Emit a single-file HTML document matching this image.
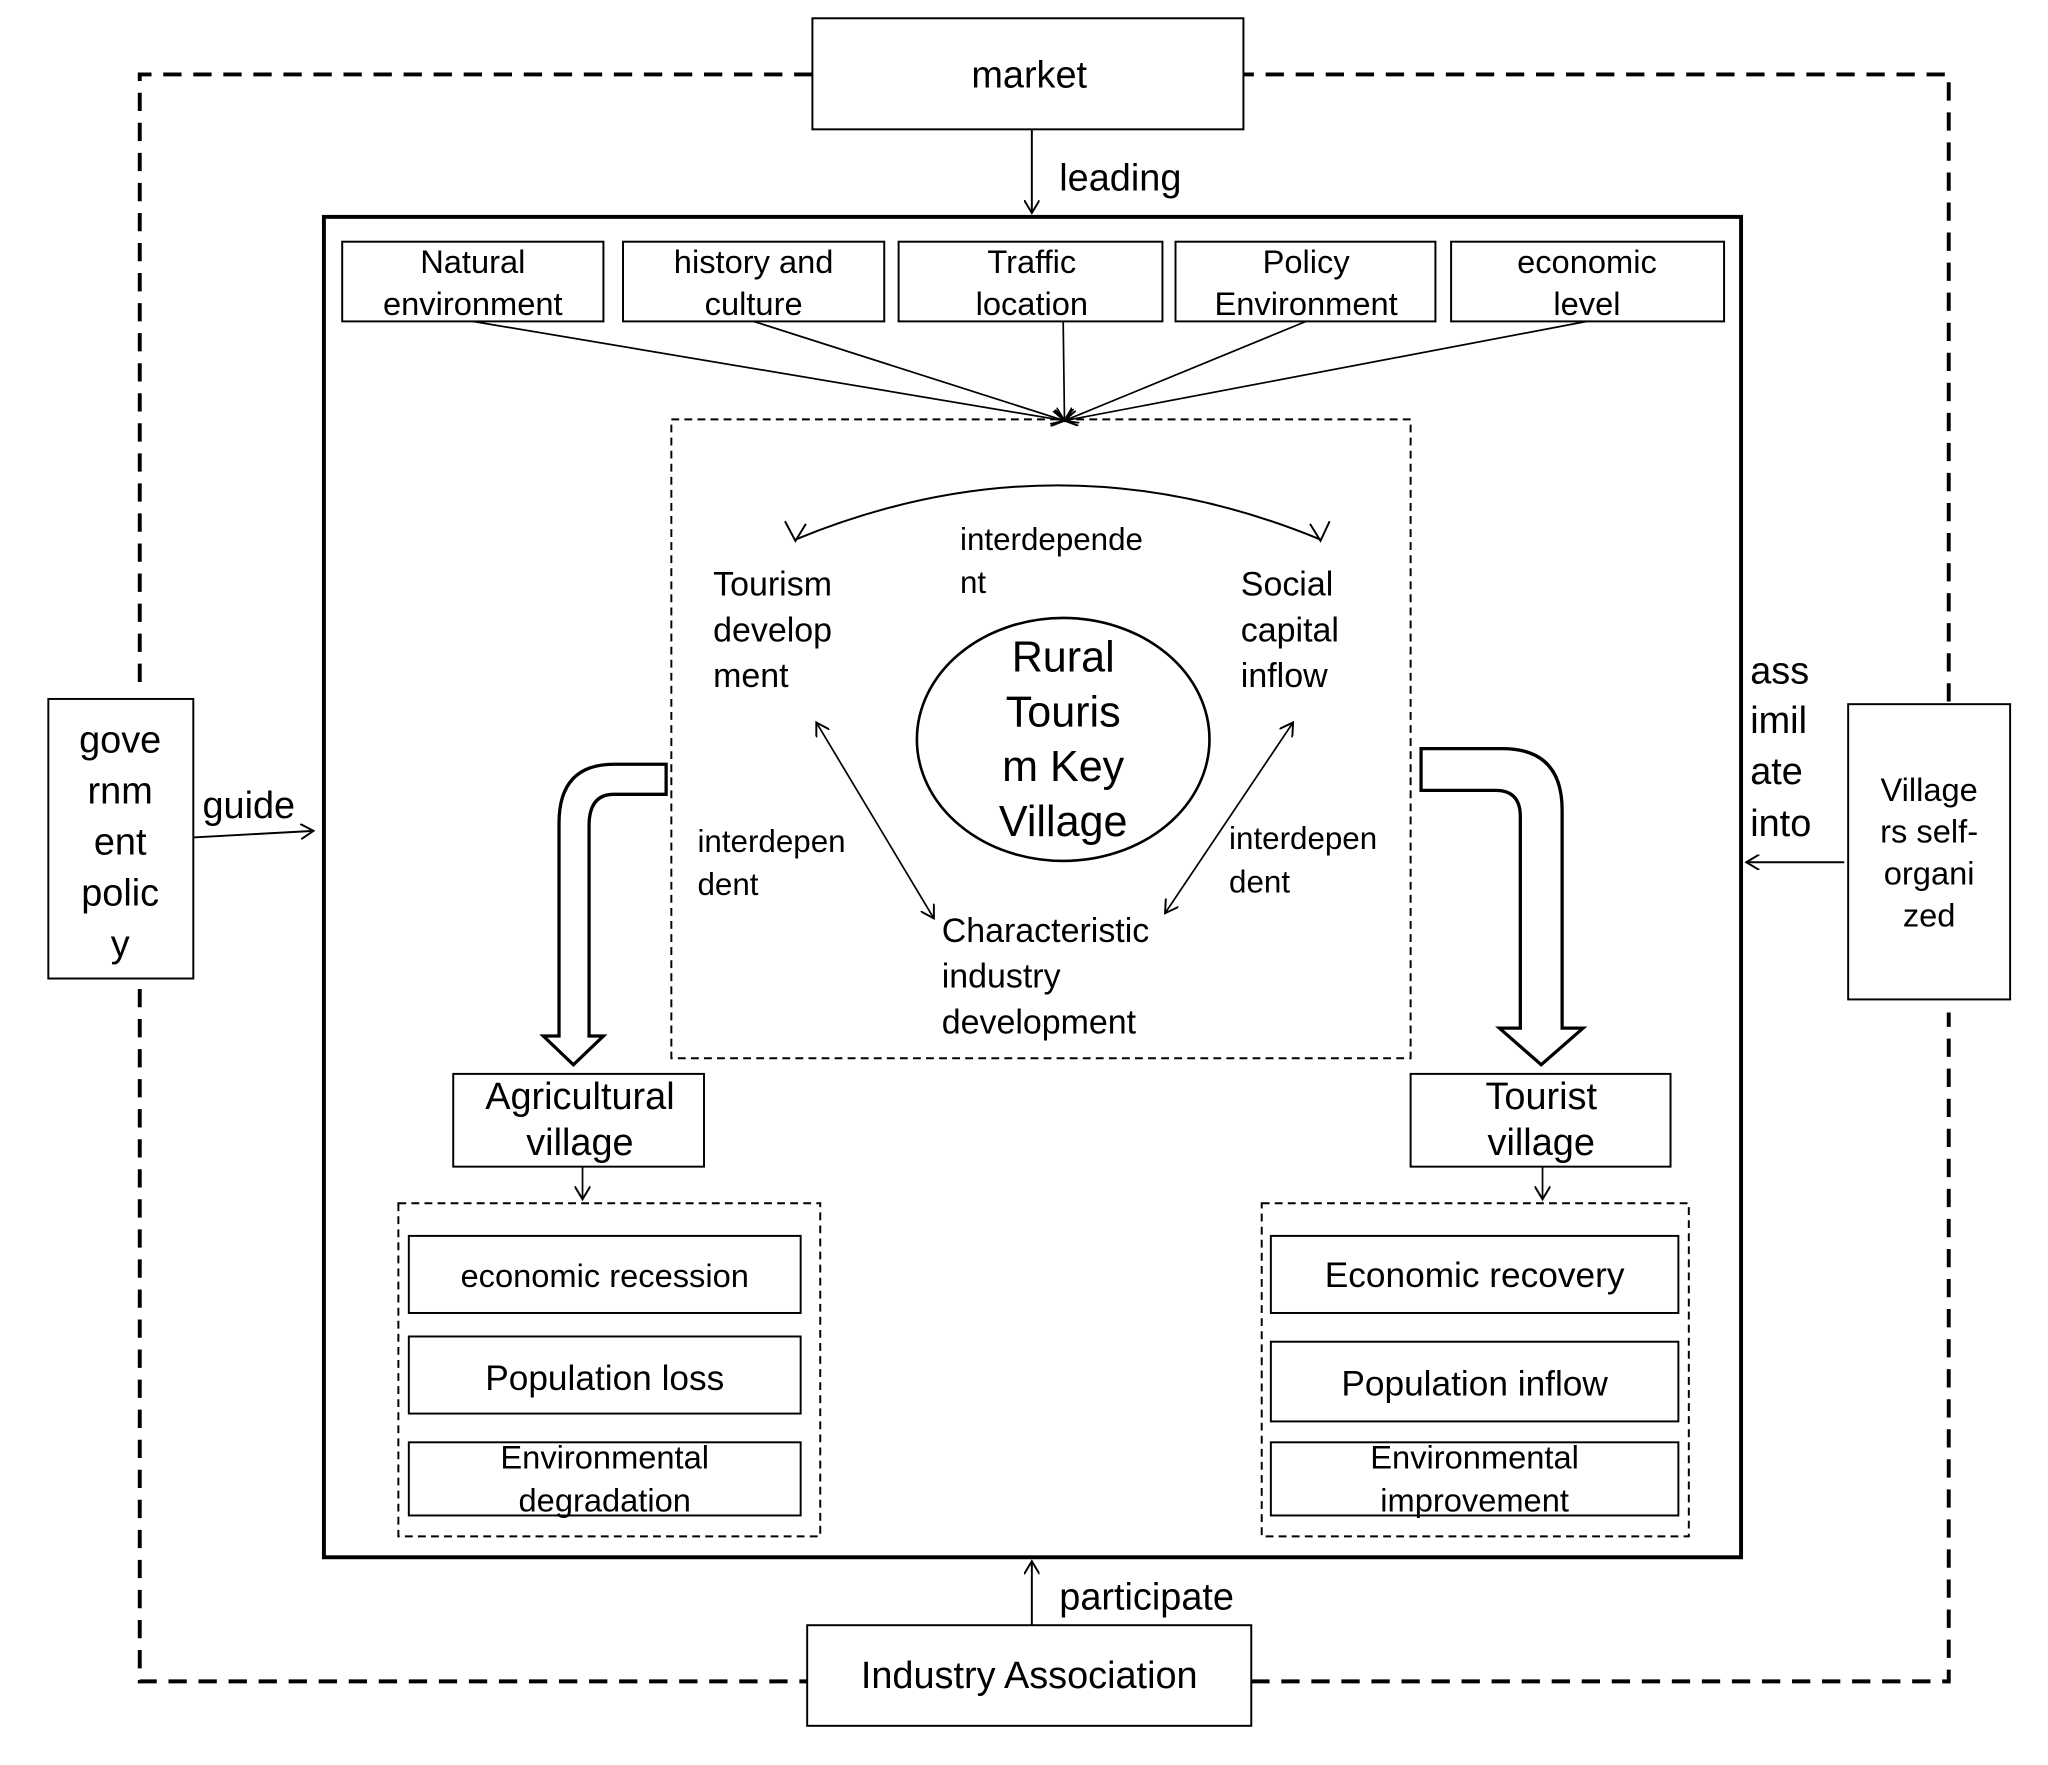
<!DOCTYPE html>
<html><head><meta charset="utf-8"><style>html,body{margin:0;padding:0;background:#fff}svg{display:block}text{font-family:"Liberation Sans",Arial,sans-serif;fill:#000}</style></head><body>
<svg width="2048" height="1765" viewBox="0 0 1568 1351" preserveAspectRatio="none" xmlns="http://www.w3.org/2000/svg">
<defs><marker id="a" markerWidth="12" markerHeight="12" refX="10" refY="6" orient="auto-start-reverse" markerUnits="userSpaceOnUse"><path d="M0,0 L10,6 L0,12" fill="none" stroke="#000" stroke-width="1.5"/></marker></defs>
<g fill="none" stroke="#000">
<path d="M622,57 H107 V530 M107,757 V1287 H618 M958,1287 H1492 V775 M1492,537 V57 H952" stroke-width="3" stroke-dasharray="14,9"/>
<rect x="622" y="14" width="330" height="85" fill="#fff" stroke-width="1.5"/>
<rect x="248" y="166" width="1085" height="1026" stroke-width="3"/>
<rect x="618" y="1244" width="340" height="77" fill="#fff" stroke-width="1.5"/>
<rect x="37" y="535" width="111" height="214" stroke-width="1.5"/>
<rect x="1415" y="539" width="124" height="226" stroke-width="1.5"/>
<line x1="790" y1="99" x2="790" y2="163" stroke-width="1.5" marker-end="url(#a)"/>
<line x1="790" y1="1244" x2="790" y2="1195" stroke-width="1.5" marker-end="url(#a)"/>
<line x1="148" y1="641" x2="240" y2="636" stroke-width="1.5" marker-end="url(#a)"/>
<line x1="1412" y1="660" x2="1337" y2="660" stroke-width="1.5" marker-end="url(#a)"/>
<rect x="262" y="185" width="200" height="61" stroke-width="1.5"/>
<rect x="477" y="185" width="200" height="61" stroke-width="1.5"/>
<rect x="688" y="185" width="202" height="61" stroke-width="1.5"/>
<rect x="900" y="185" width="199" height="61" stroke-width="1.5"/>
<rect x="1111" y="185" width="209" height="61" stroke-width="1.5"/>
<g stroke-width="1.3">
<line x1="362" y1="246" x2="815" y2="322" marker-end="url(#a)"/>
<line x1="577" y1="246" x2="815" y2="322" marker-end="url(#a)"/>
<line x1="814" y1="246" x2="815" y2="322" marker-end="url(#a)"/>
<line x1="1000" y1="246" x2="815" y2="322" marker-end="url(#a)"/>
<line x1="1215" y1="246" x2="815" y2="322" marker-end="url(#a)"/>
</g>
<rect x="514" y="321" width="566" height="489" stroke-width="1.5" stroke-dasharray="6,4"/>
<path d="M609,413 Q810,330 1011,413" stroke-width="1.5"/>
<path d="M601,399 L609,414 L617,401 M1018,399 L1011,414 L1003,401" stroke-width="1.5"/>
<ellipse cx="814" cy="566" rx="112" ry="93" stroke-width="2"/>
<line x1="625" y1="553" x2="715" y2="703" stroke-width="1.3" marker-start="url(#a)" marker-end="url(#a)"/>
<line x1="990" y1="553" x2="892" y2="699" stroke-width="1.3" marker-start="url(#a)" marker-end="url(#a)"/>
<path d="M510,585 H470 Q428,585 428,630 V793 H416 L439,815 L462,793 H451 V632 Q451,608 470,608 H510 Z" stroke-width="2.5"/>
<path d="M1088,573 H1150 Q1196,573 1196,620 V787 H1212 L1180,815 L1148,787 H1164 V625 Q1164,605 1145,605 H1088 Z" stroke-width="2.5"/>
<rect x="347" y="822" width="192" height="71" stroke-width="1.5"/>
<rect x="1080" y="822" width="199" height="71" stroke-width="1.5"/>
<line x1="446" y1="893" x2="446" y2="918" stroke-width="1.3" marker-end="url(#a)"/>
<line x1="1181" y1="893" x2="1181" y2="918" stroke-width="1.3" marker-end="url(#a)"/>
<rect x="305" y="921" width="323" height="255" stroke-width="1.5" stroke-dasharray="6,4"/>
<rect x="966" y="921" width="327" height="255" stroke-width="1.5" stroke-dasharray="6,4"/>
<rect x="313" y="946" width="300" height="59" stroke-width="1.5"/>
<rect x="313" y="1023" width="300" height="59" stroke-width="1.5"/>
<rect x="313" y="1104" width="300" height="56" stroke-width="1.5"/>
<rect x="973" y="946" width="312" height="59" stroke-width="1.5"/>
<rect x="973" y="1027" width="312" height="61" stroke-width="1.5"/>
<rect x="973" y="1104" width="312" height="56" stroke-width="1.5"/>
</g>
<g font-size="29" text-anchor="middle">
<text x="788" y="67">market</text>
<text x="788" y="1292">Industry Association</text>
<text x="444" y="849">Agricultural</text><text x="444" y="884">village</text>
<text x="1180" y="849">Tourist</text><text x="1180" y="884">village</text>
<text x="463" y="1064" font-size="27">Population loss</text>
<text x="1129" y="985" font-size="27">Economic recovery</text>
<text x="1129" y="1068" font-size="27">Population inflow</text>
<text x="92" y="576">gove</text><text x="92" y="615">rnm</text><text x="92" y="654">ent</text><text x="92" y="693">polic</text><text x="92" y="732">y</text>
<text x="814" y="514" font-size="33">Rural</text><text x="814" y="556" font-size="33">Touris</text><text x="814" y="598" font-size="33">m Key</text><text x="814" y="640" font-size="33">Village</text>
</g>
<g font-size="25" text-anchor="middle">
<text x="362" y="209">Natural</text><text x="362" y="241">environment</text>
<text x="577" y="209">history and</text><text x="577" y="241">culture</text>
<text x="790" y="209">Traffic</text><text x="790" y="241">location</text>
<text x="1000" y="209">Policy</text><text x="1000" y="241">Environment</text>
<text x="1215" y="209">economic</text><text x="1215" y="241">level</text>
<text x="463" y="985">economic recession</text>
<text x="463" y="1124">Environmental</text><text x="463" y="1157">degradation</text>
<text x="1129" y="1124">Environmental</text><text x="1129" y="1157">improvement</text>
<text x="1477" y="613">Village</text><text x="1477" y="645">rs self-</text><text x="1477" y="677">organi</text><text x="1477" y="709">zed</text>
</g>
<g font-size="29">
<text x="811" y="146">leading</text>
<text x="811" y="1232">participate</text>
<text x="155" y="626">guide</text>
<text x="1340" y="523">ass</text><text x="1340" y="561">imil</text><text x="1340" y="600">ate</text><text x="1340" y="640">into</text>
</g>
<g font-size="26">
<text x="546" y="456">Tourism</text><text x="546" y="491">develop</text><text x="546" y="526">ment</text>
<text x="950" y="456">Social</text><text x="950" y="491">capital</text><text x="950" y="526">inflow</text>
<text x="721" y="721">Characteristic</text><text x="721" y="756">industry</text><text x="721" y="791">development</text>
</g>
<g font-size="24">
<text x="735" y="421">interdepende</text><text x="735" y="454">nt</text>
<text x="534" y="652">interdepen</text><text x="534" y="685">dent</text>
<text x="941" y="650">interdepen</text><text x="941" y="683">dent</text>
</g>
</svg>
</body></html>
